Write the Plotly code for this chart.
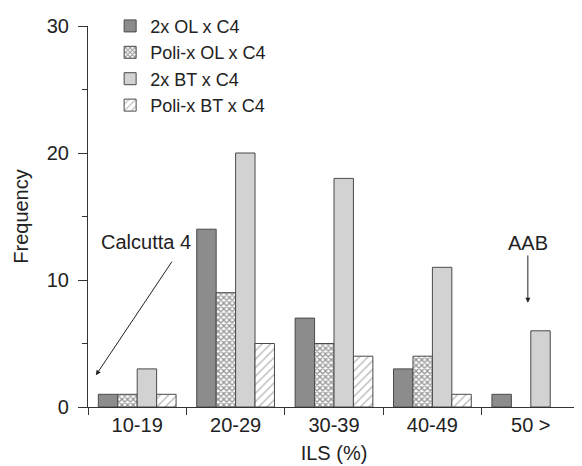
import plotly.graph_objects as go

categories = ["10-19", "20-29", "30-39", "40-49", "50 >"]
ol_2x = [1, 14, 7, 3, 1]
ol_poli = [1, 9, 5, 4, None]
bt_2x = [3, 20, 18, 11, 6]
bt_poli = [1, 5, 4, 1, None]

FONT = "Liberation Sans, Arial, Helvetica, sans-serif"
LINE = "#4a4a4a"
FS = 20

fig = go.Figure()
fig.add_bar(x=categories, y=ol_2x, name="2x OL x C4",
            marker=dict(color="#8c8c8c", line=dict(color=LINE, width=1)))
fig.add_bar(x=categories, y=ol_poli, name="Poli-x OL x C4",
            marker=dict(color="white", line=dict(color=LINE, width=1),
                        pattern=dict(shape="x", fgcolor="#2a2a2a", bgcolor="white",
                                     size=4, solidity=0.55)))
fig.add_bar(x=categories, y=bt_2x, name="2x BT x C4",
            marker=dict(color="#d2d2d2", line=dict(color=LINE, width=1)))
fig.add_bar(x=categories, y=bt_poli, name="Poli-x BT x C4",
            marker=dict(color="white", line=dict(color=LINE, width=1),
                        pattern=dict(shape="/", fgcolor="#6e6e6e", bgcolor="white",
                                     size=6, solidity=0.22)))

# The page body adds an 8px offset, so the figure is 8px smaller
fig.update_layout(
    width=574, height=458,
    barmode="group", bargap=0.21, bargroupgap=0,
    paper_bgcolor="white", plot_bgcolor="white",
    margin=dict(l=80, r=2, t=18, b=59, autoexpand=False),
    font=dict(family=FONT, size=FS, color="#222222"),
    showlegend=True,
    legend=dict(x=0.045, y=1.048, xanchor="left", yanchor="top",
                bgcolor="rgba(0,0,0,0)", font=dict(size=18), tracegroupgap=0,
                itemwidth=30),
    xaxis=dict(type="category", showline=True, linecolor="#333333", linewidth=1.2,
               ticks="outside", tickson="boundaries", ticklen=7, tickcolor="#333333",
               showgrid=False, zeroline=False, automargin=True,
               title=dict(text="ILS (%)", standoff=10, font=dict(size=FS))),
    yaxis=dict(range=[0, 30], showline=True, linecolor="#333333", linewidth=1.2,
               ticks="outside", ticklen=9, tickcolor="#333333", dtick=10,
               ticklabelstandoff=5,
               minor=dict(dtick=5, ticks="outside", ticklen=5, tickcolor="#333333"),
               showgrid=False, zeroline=False, automargin=True,
               title=dict(text="Frequency", standoff=12, font=dict(size=FS))),
)

# Calcutta 4 label and arrow
fig.add_annotation(x=0.09, y=13, xref="x", yref="y", text="Calcutta 4",
                   showarrow=False, font=dict(size=FS))
fig.add_annotation(x=-0.42, y=2.5, xref="x", yref="y", text="",
                   showarrow=True, arrowhead=2, arrowsize=1, arrowwidth=1,
                   arrowcolor="#222222", ax=77, ay=-115)
# AAB label and arrow
fig.add_annotation(x=3.97, y=8.2, xref="x", yref="y", text="AAB",
                   showarrow=True, arrowhead=2, arrowsize=1, arrowwidth=1,
                   arrowcolor="#222222", ax=0, ay=-60, font=dict(size=FS))

fig.write_html("out.html")
